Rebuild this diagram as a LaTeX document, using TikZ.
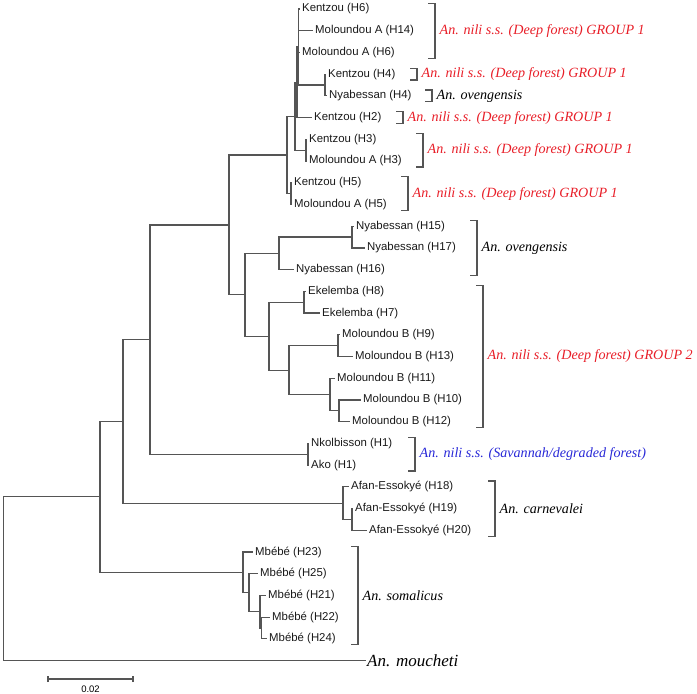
\documentclass[tikz,border=0pt]{standalone}
\usepackage{fontspec}
\setmainfont{Liberation Serif}
\setsansfont{Liberation Sans}
\definecolor{treegray}{RGB}{85,85,85}
\definecolor{nilired}{RGB}{232,30,40}
\definecolor{niliblue}{RGB}{40,40,215}
\tikzset{
  branch/.style={draw=treegray, line width=1.2pt},
  leaf/.style={anchor=west, inner xsep=2pt, inner ysep=0pt, text=black!90,
    font=\sffamily\fontsize{11.4}{13}\selectfont},
  taxon/.style={anchor=west, inner xsep=4.5pt, inner ysep=0pt,
    font=\itshape\fontsize{14.1}{16}\selectfont},
  scalelab/.style={inner sep=0pt, font=\sffamily\fontsize{9.5}{11}\selectfont}
}
\begin{document}
\begin{tikzpicture}[x=1pt, y=-21.72pt]
 \useasboundingbox (0pt,0pt) rectangle (697pt,-694pt);
 \begin{scope}[yshift=-9pt]
 % internal nodes
 \coordinate (root) at (3.5,26.23);
 \coordinate (aa) at (100,22.46);
 \coordinate (bb) at (123,18.98);
 \coordinate (cc) at (150,15.22);
 \coordinate (dd) at (229,9.94);
 \coordinate (grA) at (287,6.72);
 \coordinate (grB) at (295,4.94);
 \coordinate (grC) at (297,3.375);
 \coordinate (grD) at (298.5,1.75);
 \coordinate (h4) at (325,3.5);
 \coordinate (h3) at (306,6.5);
 \coordinate (h5) at (291,8.5);
 \coordinate (ee) at (245,13.16);
 \coordinate (ov) at (279,11.25);
 \coordinate (ovb) at (352,10.5);
 \coordinate (gr2) at (269,15.06);
 \coordinate (ekl) at (304,13.5);
 \coordinate (mba) at (289,16.625);
 \coordinate (mbb) at (338,15.5);
 \coordinate (mbc) at (330,17.75);
 \coordinate (mbd) at (339,18.5);
 \coordinate (sav) at (308,20.5);
 \coordinate (car) at (343,22.75);
 \coordinate (carb) at (352,23.5);
 \coordinate (som) at (243,25.94);
 \coordinate (somb) at (249,26.875);
 \coordinate (somc) at (260,27.75);
 \coordinate (somd) at (261.5,28.5);
 % leaves
 \node[leaf] (k6) at (300,0) {Kentzou (H6)};
 \node[leaf] (ma14) at (313,1) {Moloundou A (H14)};
 \node[leaf] (ma6) at (300,2) {Moloundou A (H6)};
 \node[leaf] (k4) at (326,3) {Kentzou (H4)};
 \node[leaf] (ny4) at (327,4) {Nyabessan (H4)};
 \node[leaf] (k2) at (312,5) {Kentzou (H2)};
 \node[leaf] (k3) at (307,6) {Kentzou (H3)};
 \node[leaf] (ma3) at (307,7) {Moloundou A (H3)};
 \node[leaf] (k5) at (292,8) {Kentzou (H5)};
 \node[leaf] (ma5) at (292,9) {Moloundou A (H5)};
 \node[leaf] (ny15) at (354,10) {Nyabessan (H15)};
 \node[leaf] (ny17) at (365,11) {Nyabessan (H17)};
 \node[leaf] (ny16) at (294,12) {Nyabessan (H16)};
 \node[leaf] (ek8) at (306,13) {Ekelemba (H8)};
 \node[leaf] (ek7) at (320,14) {Ekelemba (H7)};
 \node[leaf] (mb9) at (340,15) {Moloundou B (H9)};
 \node[leaf] (mb13) at (353,16) {Moloundou B (H13)};
 \node[leaf] (mb11) at (335,17) {Moloundou B (H11)};
 \node[leaf] (mb10) at (361,18) {Moloundou B (H10)};
 \node[leaf] (mb12) at (350,19) {Moloundou B (H12)};
 \node[leaf] (nk1) at (309,20) {Nkolbisson (H1)};
 \node[leaf] (ako1) at (309,21) {Ako (H1)};
 \node[leaf] (af18) at (349,22) {Afan-Essokyé (H18)};
 \node[leaf] (af19) at (353,23) {Afan-Essokyé (H19)};
 \node[leaf] (af20) at (367,24) {Afan-Essokyé (H20)};
 \node[leaf] (mbe23) at (253,25) {Mbébé (H23)};
 \node[leaf] (mbe25) at (258,26) {Mbébé (H25)};
 \node[leaf] (mbe21) at (266,27) {Mbébé (H21)};
 \node[leaf] (mbe22) at (270,28) {Mbébé (H22)};
 \node[leaf] (mbe24) at (267,29) {Mbébé (H24)};
 \node[taxon, inner xsep=1pt, font=\itshape\fontsize{17}{19}\selectfont] (mou) at (366,30) {An. moucheti};
 % branches
 \foreach \p/\c in {root/aa, root/mou.west, aa/bb, aa/som, bb/cc, bb/car, cc/dd, cc/sav,
   dd/grA, dd/ee, grA/grB, grA/h5, grB/grC, grB/h3, grC/grD, grC/k2.west,
   grD/k6.west, grD/ma14.west, grD/ma6.west, grD/h4, h4/k4.west, h4/ny4.west,
   h3/k3.west, h3/ma3.west, h5/k5.west, h5/ma5.west, ee/ov, ee/gr2,
   ov/ovb, ov/ny16.west, ovb/ny15.west, ovb/ny17.west, gr2/ekl, gr2/mba,
   ekl/ek8.west, ekl/ek7.west, mba/mbb, mba/mbc, mbb/mb9.west, mbb/mb13.west,
   mbc/mb11.west, mbc/mbd, mbd/mb10.west, mbd/mb12.west, sav/nk1.west, sav/ako1.west,
   car/af18.west, car/carb, carb/af19.west, carb/af20.west, som/mbe23.west, som/somb,
   somb/mbe25.west, somb/somc, somc/mbe21.west, somc/somd, somd/mbe22.west, somd/mbe24.west}
   \draw[branch] (\p) |- (\c);
 % clade brackets
 \draw[branch] (428,-0.27) -- (435,-0.27) -- (435,2.27) -- (428,2.27);
 \node[taxon, text=nilired] (grp1a) at (435,1) {An. nili s.s. (Deep forest) GROUP 1};
 \draw[branch] (410,2.73) -- (417,2.73) -- (417,3.27) -- (410,3.27);
 \node[taxon, text=nilired] (grp1b) at (417,3) {An. nili s.s. (Deep forest) GROUP 1};
 \draw[branch] (425,3.73) -- (432,3.73) -- (432,4.27) -- (425,4.27);
 \node[taxon] (oveA) at (432,4) {An. ovengensis};
 \draw[branch] (396,4.73) -- (403,4.73) -- (403,5.27) -- (396,5.27);
 \node[taxon, text=nilired] (grp1c) at (403,5) {An. nili s.s. (Deep forest) GROUP 1};
 \draw[branch] (416,5.73) -- (423,5.73) -- (423,7.27) -- (416,7.27);
 \node[taxon, text=nilired] (grp1d) at (423,6.5) {An. nili s.s. (Deep forest) GROUP 1};
 \draw[branch] (401,7.73) -- (408,7.73) -- (408,9.27) -- (401,9.27);
 \node[taxon, text=nilired] (grp1e) at (408,8.5) {An. nili s.s. (Deep forest) GROUP 1};
 \draw[branch] (470,9.73) -- (477,9.73) -- (477,12.27) -- (470,12.27);
 \node[taxon] (oveB) at (477,11) {An. ovengensis};
 \draw[branch] (476,12.73) -- (483,12.73) -- (483,19.27) -- (476,19.27);
 \node[taxon, text=nilired] (grp2) at (483,16) {An. nili s.s. (Deep forest) GROUP 2};
 \draw[branch] (408,19.73) -- (415,19.73) -- (415,21.27) -- (408,21.27);
 \node[taxon, text=niliblue] (savg) at (415,20.5) {An. nili s.s. (Savannah/degraded forest)};
 \draw[branch] (488,21.73) -- (495,21.73) -- (495,24.27) -- (488,24.27);
 \node[taxon] (carn) at (495,23) {An. carnevalei};
 \draw[branch] (351,24.73) -- (358,24.73) -- (358,29.27) -- (351,29.27);
 \node[taxon] (soma) at (358,27) {An. somalicus};
 % scale bar
 \coordinate (sbl) at (48,30.85);
 \coordinate (sbr) at (133,30.85);
 \draw[branch] (sbl) -- (sbr);
 \draw[branch] ([yshift=-3pt]sbl) -- ([yshift=3pt]sbl);
 \draw[branch] ([yshift=-3pt]sbr) -- ([yshift=3pt]sbr);
 \node[scalelab] (sbtxt) at (90.5,31.3) {0.02};
 \end{scope}
\end{tikzpicture}
\end{document}
